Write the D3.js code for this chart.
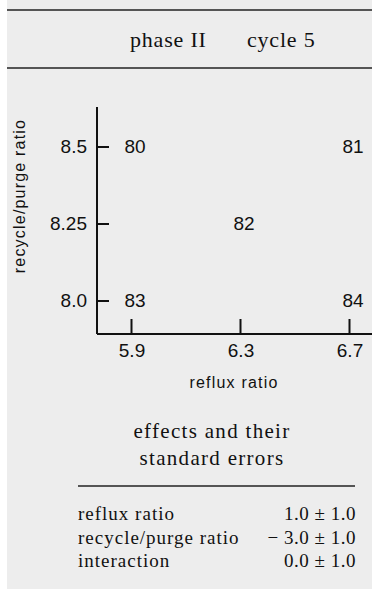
<!DOCTYPE html>
<html>
<head>
<meta charset="utf-8">
<script src="https://cdn.jsdelivr.net/npm/d3@7"></script>
<style>
  body { margin: 0; background: #fff; }
  svg { display: block; }
</style>
</head>
<body>
<svg id="chart" width="372" height="596"></svg>
<script>
// design points: reflux ratio x recycle/purge ratio, labelled by run number
const runs = [80, 81, 82, 83, 84];
const refluxValues = [5.9, 6.7, 6.3, 5.9, 6.7];
const recycleValues = [8.5, 8.5, 8.25, 8.0, 8.0];

const xTicks = [5.9, 6.3, 6.7];
const yTicks = [8.0, 8.25, 8.5];
const yTickLabels = ['8.0', '8.25', '8.5'];

const effectNames = ['reflux ratio', 'recycle/purge ratio', 'interaction'];
const effectValues = ['1.0', '\u2212 3.0', '0.0'];
const effectErrors = ['1.0', '1.0', '1.0'];

const svg = d3.select('#chart');
const serif = '"Liberation Serif", "DejaVu Serif", serif';
const sans = '"Liberation Sans", Arial, sans-serif';

// paper background
svg.append('rect')
    .attr('x', 7).attr('y', 0)
    .attr('width', 365).attr('height', 589)
    .attr('fill', '#ededed');

// header rules + title
svg.append('line')
    .attr('x1', 7).attr('x2', 372).attr('y1', 10).attr('y2', 10)
    .attr('stroke', '#222').attr('stroke-width', 1.3);
svg.append('line')
    .attr('x1', 7).attr('x2', 372).attr('y1', 68).attr('y2', 68)
    .attr('stroke', '#222').attr('stroke-width', 1.3);
svg.append('text')
    .attr('x', 130).attr('y', 47)
    .attr('font-family', serif).attr('font-size', 22)
    .attr('letter-spacing', 0.8).attr('fill', '#111')
    .text('phase II');
svg.append('text')
    .attr('x', 247).attr('y', 47)
    .attr('font-family', serif).attr('font-size', 22)
    .attr('letter-spacing', 0.8).attr('fill', '#111')
    .text('cycle 5');

// plot area
const plotLeft = 97, plotBottom = 334, plotTop = 107;

const x = d3.scaleLinear()
    .domain([5.9, 6.7])
    .range([131, 349]);

const y = d3.scaleLinear()
    .domain([8.0, 8.5])
    .range([300.5, 146.5]);

// axis lines
svg.append('line')
    .attr('x1', plotLeft).attr('x2', plotLeft).attr('y1', plotTop).attr('y2', plotBottom)
    .attr('stroke', '#111').attr('stroke-width', 2);
svg.append('line')
    .attr('x1', plotLeft).attr('x2', 372).attr('y1', plotBottom).attr('y2', plotBottom)
    .attr('stroke', '#111').attr('stroke-width', 2);

// y axis: ticks point inward (right)
const yAxis = svg.append('g')
    .attr('transform', `translate(${plotLeft},0)`)
    .call(d3.axisRight(y).tickValues(yTicks).tickSize(12).tickFormat(''));
yAxis.select('.domain').remove();
yAxis.selectAll('line').attr('stroke', '#111').attr('stroke-width', 2);

svg.selectAll('.ylab')
    .data(yTicks)
    .join('text')
    .attr('x', 87)
    .attr('y', d => y(d))
    .attr('dy', '0.36em')
    .attr('text-anchor', 'end')
    .attr('font-family', sans).attr('font-size', 19)
    .attr('fill', '#111')
    .text((d, i) => yTickLabels[i]);

// x axis: ticks point up
const xAxis = svg.append('g')
    .attr('transform', `translate(0,${plotBottom})`)
    .call(d3.axisTop(x).tickValues(xTicks).tickSize(15).tickFormat(''));
xAxis.select('.domain').remove();
xAxis.selectAll('line').attr('stroke', '#111').attr('stroke-width', 2);

svg.selectAll('.xlab')
    .data(xTicks)
    .join('text')
    .attr('x', d => x(d) + 1)
    .attr('y', 357)
    .attr('text-anchor', 'middle')
    .attr('font-family', sans).attr('font-size', 19)
    .attr('fill', '#111')
    .text(d => d3.format('.1f')(d));

// axis titles
svg.append('text')
    .attr('x', 234).attr('y', 388)
    .attr('text-anchor', 'middle')
    .attr('font-family', sans).attr('font-size', 16)
    .attr('letter-spacing', 1.2)
    .attr('fill', '#111')
    .text('reflux ratio');
svg.append('text')
    .attr('transform', 'translate(25,196) rotate(-90)')
    .attr('text-anchor', 'middle')
    .attr('font-family', sans).attr('font-size', 16)
    .attr('letter-spacing', 1.2)
    .attr('fill', '#111')
    .text('recycle/purge ratio');

// run numbers at design points
svg.selectAll('.run')
    .data(runs)
    .join('text')
    .attr('x', (d, i) => x(refluxValues[i]) + 4)
    .attr('y', (d, i) => y(recycleValues[i]))
    .attr('dy', '0.36em')
    .attr('text-anchor', 'middle')
    .attr('font-family', sans).attr('font-size', 19)
    .attr('fill', '#111')
    .text(d => d);

// effects table
svg.append('text')
    .attr('x', 212).attr('y', 438)
    .attr('text-anchor', 'middle')
    .attr('font-family', serif).attr('font-size', 21)
    .attr('letter-spacing', 1.3)
    .attr('fill', '#111')
    .text('effects and their');
svg.append('text')
    .attr('x', 212).attr('y', 465)
    .attr('text-anchor', 'middle')
    .attr('font-family', serif).attr('font-size', 21)
    .attr('letter-spacing', 1.3)
    .attr('fill', '#111')
    .text('standard errors');
svg.append('line')
    .attr('x1', 78).attr('x2', 355).attr('y1', 486).attr('y2', 486)
    .attr('stroke', '#222').attr('stroke-width', 1.3);

const rowY = d3.scalePoint()
    .domain(effectNames)
    .range([520, 567]);

svg.selectAll('.ename')
    .data(effectNames)
    .join('text')
    .attr('x', 78)
    .attr('y', d => rowY(d))
    .attr('font-family', serif).attr('font-size', 19)
    .attr('letter-spacing', 1)
    .attr('fill', '#111')
    .text(d => d);

svg.selectAll('.evalue')
    .data(effectNames)
    .join('text')
    .attr('x', 356)
    .attr('y', d => rowY(d))
    .attr('text-anchor', 'end')
    .attr('font-family', serif).attr('font-size', 19)
    .attr('letter-spacing', 0.5)
    .attr('fill', '#111')
    .text((d, i) => `${effectValues[i]} \u00b1 ${effectErrors[i]}`);
</script>
</body>
</html>
